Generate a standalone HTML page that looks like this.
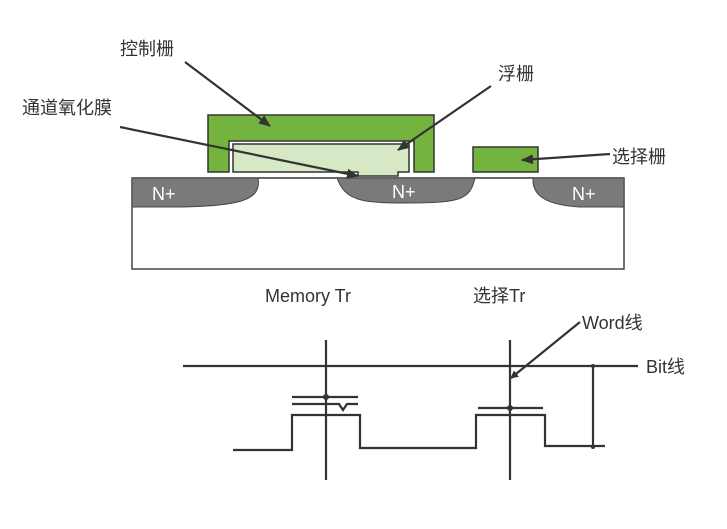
<!DOCTYPE html>
<html><head><meta charset="utf-8"><style>
body{margin:0;background:#fff;}
svg text{font-family:"Liberation Sans","Noto Sans CJK SC",sans-serif;fill:#333;}
</style></head><body>
<svg width="727" height="524" viewBox="0 0 727 524" xmlns="http://www.w3.org/2000/svg">
<defs><marker id="a" markerWidth="8" markerHeight="8" refX="7" refY="4" orient="auto" markerUnits="userSpaceOnUse"><path d="M0,0 L8,4 L0,8 Z" fill="#333"/></marker>
<marker id="b" markerWidth="12" markerHeight="10" refX="11" refY="5" orient="auto" markerUnits="userSpaceOnUse"><path d="M0,0 L12,5 L0,10 Z" fill="#333"/></marker></defs>
<rect x="132" y="178" width="492" height="91" fill="#fff" stroke="#444" stroke-width="1.5"/>
<path d="M132,178 H258 C262,200 240,206 180,207 H132 Z" fill="#7a7a7a" stroke="#444"/>
<path d="M337,178 H475 C470,200 460,203 405,203 C360,203 345,200 337,178 Z" fill="#7a7a7a" stroke="#444"/>
<path d="M533,178 H624 V207 H580 C545,205 532,195 533,178 Z" fill="#7a7a7a" stroke="#444"/>
<line x1="132" y1="178" x2="624" y2="178" stroke="#555" stroke-width="1.5"/>
<text x="152" y="200" font-size="18" style="fill:#fff">N+</text>
<text x="392" y="198" font-size="18" style="fill:#fff">N+</text>
<text x="572" y="200" font-size="18" style="fill:#fff">N+</text>
<path d="M208,115 H434 V172 H414 V141 H229 V172 H208 Z" fill="#74b43e" stroke="#333" stroke-width="1.5"/>
<path d="M233,144 H409 V172 H398 V176 H358 V172 H233 Z" fill="#d6e8c4" stroke="#333" stroke-width="1.5"/>
<rect x="473" y="147" width="65" height="25" fill="#74b43e" stroke="#333" stroke-width="1.5"/>
<text x="120" y="55" font-size="18">控制栅</text>
<line x1="185" y1="62" x2="270" y2="126" stroke="#333" stroke-width="2.2" marker-end="url(#b)"/>
<text x="498" y="80" font-size="18">浮栅</text>
<line x1="491" y1="86" x2="398" y2="150" stroke="#333" stroke-width="2.2" marker-end="url(#b)"/>
<text x="22" y="114" font-size="18">通道氧化膜</text>
<line x1="120" y1="127" x2="358" y2="176" stroke="#333" stroke-width="2.2" marker-end="url(#b)"/>
<text x="612" y="163" font-size="18">选择栅</text>
<line x1="610" y1="154" x2="522" y2="160" stroke="#333" stroke-width="2.2" marker-end="url(#b)"/>
<text x="265" y="302" font-size="18">Memory Tr</text>
<text x="473" y="302" font-size="18">选择Tr</text>
<g stroke="#333" stroke-width="2.2" fill="none">
<line x1="183" y1="366" x2="638" y2="366"/>
<line x1="326" y1="340" x2="326" y2="480"/>
<line x1="510" y1="340" x2="510" y2="480"/>
<line x1="593" y1="366" x2="593" y2="447"/>
<path d="M233,450 H292 V415 H360 V448 H476 V415 H545 V446 H605"/>
<line x1="292" y1="397" x2="358" y2="397"/>
<path d="M292,404 H339 L343,410 L347,404 H358"/>
<line x1="478" y1="408" x2="543" y2="408"/>
</g>
<circle cx="326" cy="397" r="3" fill="#333"/>
<circle cx="510" cy="408" r="3" fill="#333"/>
<circle cx="593" cy="366" r="2" fill="#333"/>
<circle cx="593" cy="447" r="2" fill="#333"/>
<line x1="580" y1="322" x2="511" y2="378" stroke="#333" stroke-width="2.2" marker-end="url(#a)"/>
<text x="582" y="329" font-size="18">Word线</text>
<text x="646" y="373" font-size="18">Bit线</text>
</svg>
</body></html>
